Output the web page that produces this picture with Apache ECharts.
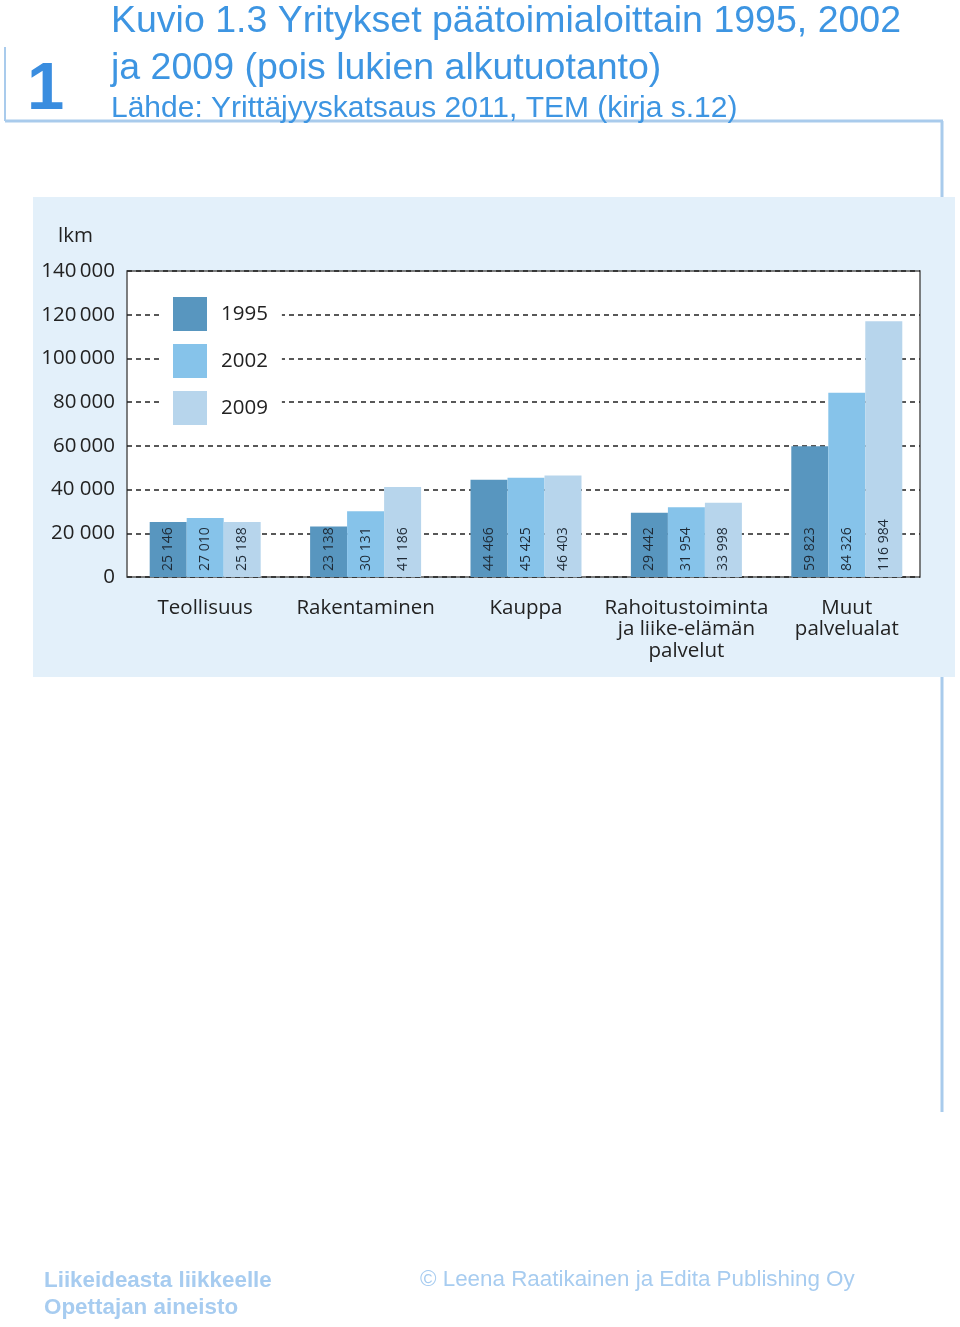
<!DOCTYPE html>
<html><head><meta charset="utf-8">
<script src="https://cdn.jsdelivr.net/npm/echarts@6/dist/echarts.min.js"></script>
<style>html,body{margin:0;padding:0;background:#fff}#c{width:960px;height:1327px}</style>
</head><body><div id="c"></div>
<script>
const categories = ['Teollisuus','Rakentaminen','Kauppa','Rahoitustoiminta\nja liike-elämän\npalvelut','Muut\npalvelualat'];
const seriesNames = ['1995','2002','2009'];
const values1995 = [25146,23138,44466,29442,59823];
const values2002 = [27010,30131,45425,31954,84326];
const values2009 = [25188,41186,46403,33998,116984];
const yTickLabels = ['0','20 000','40 000','60\u2009000','80\u2009000','100\u2009000','120\u2009000','140\u2009000'];
const colors = ['#5896bf','#86c3ea','#b7d5ec'];

const chartFont = '"Open Sans", "Noto Sans", sans-serif';
const fmt = v => String(v).replace(/\B(?=(\d{3})+(?!\d))/g, ' ');

function mkSeries(name, data, color){
  return {
    name, type:'bar', data, barGap:'0%', barCategoryGap:'30.8%',
    xAxisIndex:1, yAxisIndex:1,
    itemStyle:{color},
    label:{show:true, position:'insideBottom', rotate:90, align:'left', verticalAlign:'middle',
      distance:6, fontSize:14, color:'#1e2a36', fontFamily:chartFont, formatter:p=>fmt(p.value)}
  };
}

const chart = echarts.init(document.getElementById('c'), null, {renderer:'canvas'});
const lineColor = '#a9cbec';
const titleFont = '"Liberation Sans", Arial, sans-serif';
chart.setOption({
  animation:false,
  textStyle:{fontFamily:chartFont},
  graphic:[
    {type:'line', z:-10, shape:{x1:5,y1:47,x2:5,y2:121}, style:{stroke:lineColor, lineWidth:2}},
    {type:'line', z:-10, shape:{x1:5,y1:121,x2:943,y2:121}, style:{stroke:lineColor, lineWidth:3}},
    {type:'line', z:-10, shape:{x1:942,y1:121,x2:942,y2:1112}, style:{stroke:lineColor, lineWidth:3}},
    {type:'rect', z:-9, shape:{x:33,y:197,width:922,height:480}, style:{fill:'#e3f0fa'}},
    {type:'text', x:111, y:41, style:{text:'Kuvio 1.3 Yritykset päätoimialoittain 1995, 2002', font:'37.5px '+titleFont, fill:'#3d95e2', verticalAlign:'bottom'}},
    {type:'text', x:111, y:88, style:{text:'ja 2009 (pois lukien alkutuotanto)', font:'37.5px '+titleFont, fill:'#3d95e2', verticalAlign:'bottom'}},
    {type:'text', x:111, y:124, style:{text:'Lähde: Yrittäjyyskatsaus 2011, TEM (kirja s.12)', font:'30px '+titleFont, fill:'#3d95e2', verticalAlign:'bottom'}},
    {type:'text', x:27, y:124, style:{text:'1', font:'bold 67px '+titleFont, fill:'#3a8ddf', verticalAlign:'bottom'}},
    {type:'text', x:58, y:236, style:{text:'lkm', font:'20.5px '+chartFont, fill:'#222', verticalAlign:'middle'}},
    {type:'text', x:44, y:1281, style:{text:'Liikeideasta liikkeelle', font:'bold 22.4px '+titleFont, fill:'#a7ccf0', verticalAlign:'middle'}},
    {type:'text', x:44, y:1308, style:{text:'Opettajan aineisto', font:'bold 22.4px '+titleFont, fill:'#a7ccf0', verticalAlign:'middle'}},
    {type:'text', x:420, y:1280, style:{text:'© Leena Raatikainen ja Edita Publishing Oy', font:'22.4px '+titleFont, fill:'#a7ccf0', verticalAlign:'middle'}}
  ],
  grid:[
    {left:127, right:40, top:271, bottom:750, show:true, backgroundColor:'#fff', borderColor:'#555', borderWidth:1.5},
    {left:125, right:33, top:271, bottom:750, show:false}
  ],
  legend:{
    orient:'vertical', left:162, top:286, data:seriesNames, icon:'rect',
    itemWidth:34, itemHeight:34, itemGap:13, padding:[11,14,11,11],
    backgroundColor:'#fff',
    textStyle:{fontSize:20.5, color:'#222', fontFamily:chartFont, padding:[0,0,0,9]}
  },
  xAxis:[
    {type:'category', gridIndex:0, data:categories, show:false},
    {type:'category', gridIndex:1, data:categories,
      axisLine:{show:false}, axisTick:{show:false},
      axisLabel:{fontSize:20.5, color:'#222', margin:20, lineHeight:21.5, fontFamily:chartFont, interval:0}}
  ],
  yAxis:[
    {type:'value', gridIndex:0, min:0, max:140000, interval:20000,
      axisLine:{show:false}, axisTick:{show:false},
      axisLabel:{fontSize:20.5, color:'#222', margin:12, fontFamily:chartFont, formatter:v=>yTickLabels[Math.round(v/20000)]},
      splitLine:{show:true, lineStyle:{color:'#222', type:[5,4], width:1.6}}},
    {type:'value', gridIndex:1, min:0, max:140000, interval:20000, show:false, splitLine:{show:false}}
  ],
  series:[mkSeries(seriesNames[0], values1995, colors[0]), mkSeries(seriesNames[1], values2002, colors[1]), mkSeries(seriesNames[2], values2009, colors[2])]
});
</script></body></html>
